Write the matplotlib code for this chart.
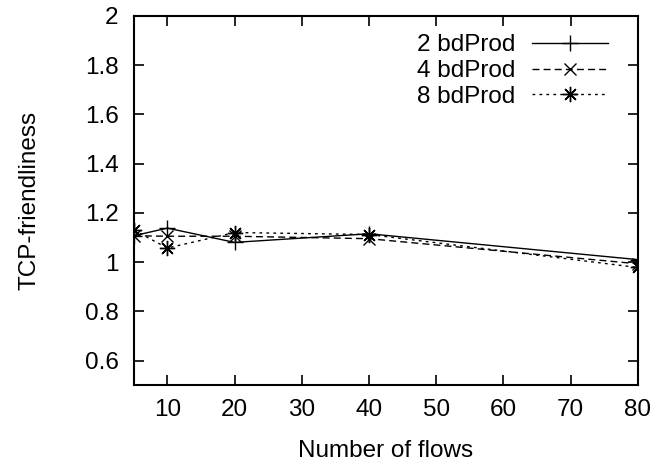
import numpy as np
import matplotlib.pyplot as plt
from matplotlib.ticker import FormatStrFormatter

plt.rcParams['font.family'] = ['Liberation Sans', 'DejaVu Sans']

# number of flows vs TCP-friendliness
flows = [5, 10, 20, 40, 80]
bd2 = [1.107, 1.138, 1.080, 1.115, 1.010]
bd4 = [1.107, 1.105, 1.105, 1.095, 0.993]
bd8 = [1.130, 1.057, 1.120, 1.112, 0.978]

fs = 17.5
fig = plt.figure(figsize=(6.59, 4.68), dpi=100)
ax = fig.add_axes([0.203, 0.177, 0.765, 0.789])

ax.plot(flows, bd2, '-', color='black', lw=1, marker='+', ms=11, mew=1, label='2 bdProd')
ax.plot(flows, bd4, '--', color='black', lw=1, marker='x', ms=9, mew=1,
        dashes=(5, 3), label='4 bdProd')
ax.plot(flows, bd8, ':', color='black', lw=1, marker=(8, 2, 0), ms=11, mew=1,
        dashes=(2, 3), label='8 bdProd')

ax.set_xlim(5, 80)
ax.set_ylim(0.5, 2)
ax.set_xticks(np.arange(10, 81, 10))
ax.set_yticks(np.arange(0.6, 2.01, 0.2))
ax.yaxis.set_major_formatter(FormatStrFormatter('%g'))
ax.tick_params(direction='in', top=True, right=True, length=7, width=1.2,
               labelsize=fs)
ax.tick_params(axis='y', pad=11)
ax.tick_params(axis='x', pad=10)
for s in ax.spines.values():
    s.set_linewidth(1.5)

ax.set_xlabel('Number of flows', fontsize=fs, labelpad=14)
ax.set_ylabel('TCP-friendliness', fontsize=fs, labelpad=32)

ax.legend(loc='upper right', bbox_to_anchor=(0.94, 0.95), frameon=False,
          markerfirst=False, fontsize=fs, handlelength=3.1, labelspacing=0.15,
          borderaxespad=0, borderpad=0, handletextpad=0.7)

fig.savefig('out.png', dpi=100)
